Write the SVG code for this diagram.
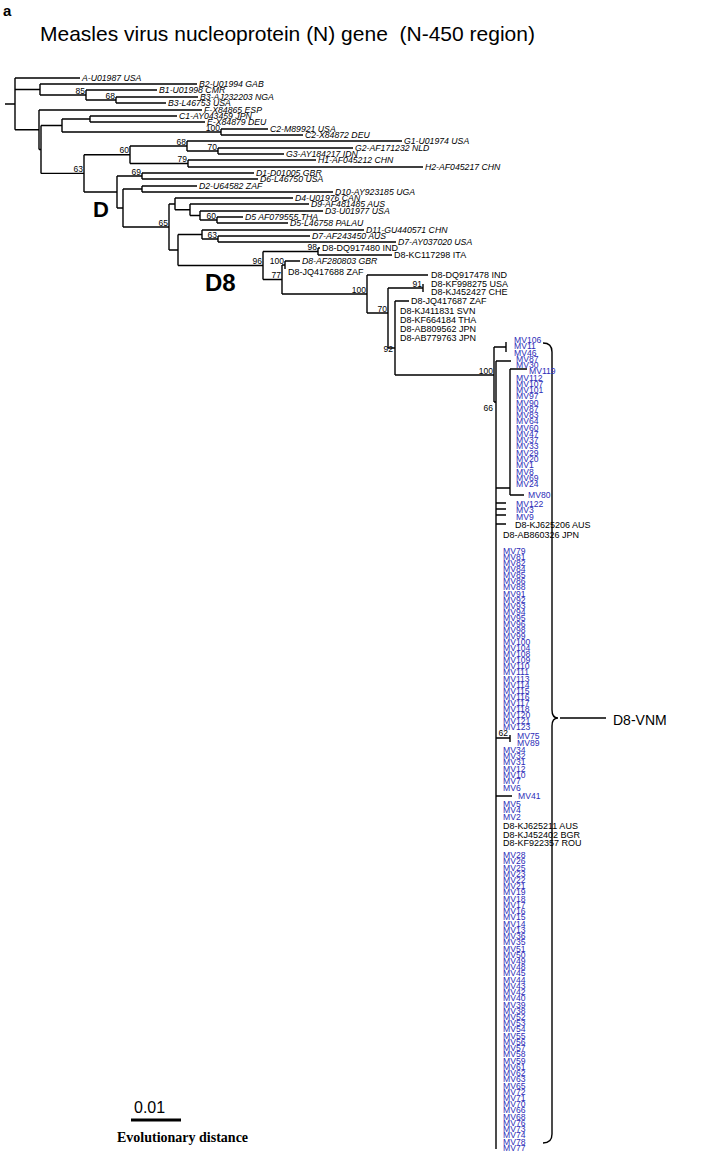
<svg xmlns="http://www.w3.org/2000/svg" width="711" height="1155" viewBox="0 0 711 1155">
<style>
.e{stroke:#000;stroke-width:1.4;fill:none}
.i{font-family:"Liberation Sans",Arial,sans-serif;font-style:italic;font-size:8.7px;fill:#000}
.n{font-family:"Liberation Sans",Arial,sans-serif;font-size:9px;fill:#000}
.bs{font-family:"Liberation Sans",Arial,sans-serif;font-size:8.5px;fill:#000;text-anchor:end}
.m{font-family:"Liberation Sans",Arial,sans-serif;font-size:8.6px;fill:#2d2db8}
.big{font-family:"Liberation Sans",Arial,sans-serif;font-weight:bold;fill:#000}
</style>
<rect width="711" height="1155" fill="#fff"/>
<g id="title">
<text x="3" y="16" class="big" font-size="15">a</text>
<text x="40" y="41" font-family="Liberation Sans, Arial, sans-serif" font-size="21" style="white-space:pre">Measles virus nucleoprotein (N) gene  (N-450 region)</text>
</g>
<g id="connectors">
<path class="e" d="M5,104H15 M15,78V129.7 M15,78H80
M15,89.5H40 M40,84V95 M40,84H197
M40,95H86 M86,90V100 M86,90H157
M86,100H116 M116,97V103 M116,97H198 M116,103H166
M15,129.7H39 M39,110V149.5 M39,110H202
M39,149.5H41 M41,125.5V173.4
M41,125.5H62 M62,119V132
M62,119H90 M90,116V122 M90,116H177 M90,122H205
M62,132H221 M221,129V135 M221,129H268 M221,135H303
M41,173.4H84 M84,154.75V192
M84,154.75H130 M130,146V163.5
M130,146H187 M187,141V151 M187,141H402
M187,151H218 M218,148V154 M218,148H353 M218,154H284
M130,163.5H188 M188,160V167 M188,160H316 M188,167H423
M84,192H117 M117,176V208
M117,176H142 M142,173V179 M142,173H254 M142,179H258
M117,208H123 M123,189V227
M123,189H142 M142,186V192 M142,186H197 M142,192H333
M123,227H169 M169,204V250
M169,204H175 M175,198V209.75 M175,198H293
M175,209.75H190 M190,204V215.5 M190,204H309
M190,215.5H200 M200,211V220 M200,211H323
M200,220H217 M217,217V223 M217,217H243 M217,223H288
M169,250H178 M178,234.5V265.5
M178,234.5H202 M202,230V239 M202,230H364
M202,239H218 M218,236V242 M218,236H310 M218,242H396
M178,265.5H263 M263,251.5V279.5
M263,251.5H318 M318,248V255 M318,248H320 M318,255H392
M263,279.5H282 M282,265V294
M282,265H285 M285,261V269 M285,261H300
M282,294H367 M367,275V313 M367,275H428
M367,313H388 M388,288V348
M388,288H423 M423,284V292
M388,348H395 M395,301V375 M395,301H409
M395,375H494 M494,347V402
M494,347H506 M506,342V352
M494,402H496 M496,361V1149
M496,361H511
M510,369V495 M510,369H527 M496,488H510 M510,495H524
M496,503H506 M496,509H506 M496,515H506 M496,524H506
M496,738H510 M510,735V742
M496,796H512"/>
<path class="e" d="M543,343 Q552,343 552,352 V710 Q552,718 558,718 Q552,718 552,726 V1134 Q552,1143 543,1143 M560,718 H606"/>
</g>
<g id="bootstrap">
<text class="bs" x="85" y="93.5">85</text>
<text class="bs" x="115" y="98.5">68</text>
<text class="bs" x="220" y="130.5">100</text>
<text class="bs" x="83" y="172">63</text>
<text class="bs" x="129" y="153">60</text>
<text class="bs" x="186" y="144.5">68</text>
<text class="bs" x="217" y="149.5">70</text>
<text class="bs" x="187" y="162">79</text>
<text class="bs" x="141" y="174.5">69</text>
<text class="bs" x="168" y="225.5">65</text>
<text class="bs" x="216" y="218.5">60</text>
<text class="bs" x="217" y="237.5">63</text>
<text class="bs" x="262" y="264">96</text>
<text class="bs" x="317" y="250">98</text>
<text class="bs" x="281" y="278">77</text>
<text class="bs" x="284" y="263.5">100</text>
<text class="bs" x="366" y="292.5">100</text>
<text class="bs" x="387" y="311.5">70</text>
<text class="bs" x="422" y="286.5">91</text>
<text class="bs" x="393" y="352">92</text>
<text class="bs" x="493" y="373.5">100</text>
<text class="bs" x="493" y="411">66</text>
<text class="bs" x="508" y="736">62</text>
</g>
<g id="reference-strains">
<g id="A-U01987"><text class="i" x="82" y="81">A-U01987 USA</text></g>
<g id="B2-U01994"><text class="i" x="199" y="87">B2-U01994 GAB</text></g>
<g id="B1-U01998"><text class="i" x="159" y="93">B1-U01998 CMR</text></g>
<g id="B3-AJ232203"><text class="i" x="200" y="100">B3-AJ232203 NGA</text></g>
<g id="B3-L46753"><text class="i" x="168" y="106">B3-L46753 USA</text></g>
<g id="F-X84865"><text class="i" x="204" y="113">F-X84865 ESP</text></g>
<g id="C1-AY043459"><text class="i" x="179" y="119">C1-AY043459 JPN</text></g>
<g id="E-X84879"><text class="i" x="207" y="125">E-X84879 DEU</text></g>
<g id="C2-M89921"><text class="i" x="270" y="132">C2-M89921 USA</text></g>
<g id="C2-X84872"><text class="i" x="305" y="138">C2-X84872 DEU</text></g>
<g id="G1-U01974"><text class="i" x="404" y="144">G1-U01974 USA</text></g>
<g id="G2-AF171232"><text class="i" x="355" y="151">G2-AF171232 NLD</text></g>
<g id="G3-AY184217"><text class="i" x="286" y="157">G3-AY184217 IDN</text></g>
<g id="H1-AF045212"><text class="i" x="318" y="163">H1-AF045212 CHN</text></g>
<g id="H2-AF045217"><text class="i" x="425" y="170">H2-AF045217 CHN</text></g>
<g id="D1-D01005"><text class="i" x="256" y="176">D1-D01005 GBR</text></g>
<g id="D6-L46750"><text class="i" x="260" y="182">D6-L46750 USA</text></g>
<g id="D2-U64582"><text class="i" x="199" y="189">D2-U64582 ZAF</text></g>
<g id="D10-AY923185"><text class="i" x="335" y="195">D10-AY923185 UGA</text></g>
<g id="D4-U01976"><text class="i" x="295" y="201">D4-U01976 CAN</text></g>
<g id="D9-AF481485"><text class="i" x="311" y="207">D9-AF481485 AUS</text></g>
<g id="D3-U01977"><text class="i" x="325" y="214">D3-U01977 USA</text></g>
<g id="D5-AF079555"><text class="i" x="245" y="220">D5 AF079555 THA</text></g>
<g id="D5-L46758"><text class="i" x="290" y="226">D5-L46758 PALAU</text></g>
<g id="D11-GU440571"><text class="i" x="366" y="233">D11-GU440571 CHN</text></g>
<g id="D7-AF243450"><text class="i" x="312" y="239">D7-AF243450 AUS</text></g>
<g id="D7-AY037020"><text class="i" x="398" y="245">D7-AY037020 USA</text></g>
<g id="D8-AF280803"><text class="i" x="302" y="264">D8-AF280803 GBR</text></g>
<g id="D8-DQ917480"><text class="n" x="322" y="251">D8-DQ917480 IND</text></g>
<g id="D8-KC117298"><text class="n" x="394" y="258">D8-KC117298 ITA</text></g>
<g id="D8-JQ417688"><text class="n" x="288" y="275">D8-JQ417688 ZAF</text></g>
<g id="D8-DQ917478"><text class="n" x="431" y="278">D8-DQ917478 IND</text></g>
<g id="D8-KF998275"><text class="n" x="431" y="287">D8-KF998275 USA</text></g>
<g id="D8-KJ452427"><text class="n" x="431" y="295">D8-KJ452427 CHE</text></g>
<g id="D8-JQ417687"><text class="n" x="411" y="304">D8-JQ417687 ZAF</text></g>
<g id="D8-KJ411831"><text class="n" x="400" y="314">D8-KJ411831 SVN</text></g>
<g id="D8-KF664184"><text class="n" x="400" y="323">D8-KF664184 THA</text></g>
<g id="D8-AB809562"><text class="n" x="400" y="332">D8-AB809562 JPN</text></g>
<g id="D8-AB779763"><text class="n" x="400" y="341">D8-AB779763 JPN</text></g>
<g id="D8-KJ625206"><text class="n" x="515" y="528">D8-KJ625206 AUS</text></g>
<g id="D8-AB860326"><text class="n" x="503" y="538">D8-AB860326 JPN</text></g>
<g id="D8-KJ625211"><text class="n" x="503" y="829">D8-KJ625211 AUS</text></g>
<g id="D8-KJ452402"><text class="n" x="503" y="838">D8-KJ452402 BGR</text></g>
<g id="D8-KF922357"><text class="n" x="503" y="846">D8-KF922357 ROU</text></g>
</g>
<g id="genotype-labels">
<text class="big" x="93" y="217" font-size="22">D</text>
<text class="big" x="205" y="291" font-size="24">D8</text>
<text x="613" y="725" font-family="Liberation Sans, Arial, sans-serif" font-size="14">D8-VNM</text>
</g>
<g id="vietnam-strains" class="m">
<text x="514" y="343">MV106</text>
<text x="514" y="349.3">MV11</text>
<text x="514" y="355.5">MV46</text>
<text x="516" y="361.8">MV87</text>
<text x="516" y="368">MV30</text>
<text x="529" y="374.3">MV119</text>
<text x="516" y="380.6">MV112</text>
<text x="516" y="386.8">MV107</text>
<text x="516" y="393.1">MV101</text>
<text x="516" y="399.3">MV97</text>
<text x="516" y="405.6">MV90</text>
<text x="516" y="411.9">MV87</text>
<text x="516" y="418.1">MV83</text>
<text x="516" y="424.4">MV64</text>
<text x="516" y="430.6">MV60</text>
<text x="516" y="436.9">MV47</text>
<text x="516" y="443.2">MV37</text>
<text x="516" y="449.4">MV33</text>
<text x="516" y="455.7">MV29</text>
<text x="516" y="461.9">MV20</text>
<text x="516" y="468.2">MV1</text>
<text x="516" y="474.5">MV8</text>
<text x="516" y="480.7">MV69</text>
<text x="516" y="487">MV24</text>
<text x="528" y="498">MV80</text>
<text x="516" y="507">MV122</text>
<text x="516" y="513">MV3</text>
<text x="516" y="520">MV9</text>
<text x="503" y="554">MV79</text>
<text x="503" y="560.1">MV81</text>
<text x="503" y="566.1">MV82</text>
<text x="503" y="572.2">MV84</text>
<text x="503" y="578.3">MV85</text>
<text x="503" y="584.4">MV86</text>
<text x="503" y="590.4">MV88</text>
<text x="503" y="596.5">MV91</text>
<text x="503" y="602.6">MV92</text>
<text x="503" y="608.6">MV93</text>
<text x="503" y="614.7">MV94</text>
<text x="503" y="620.8">MV95</text>
<text x="503" y="626.8">MV96</text>
<text x="503" y="632.9">MV98</text>
<text x="503" y="639">MV99</text>
<text x="503" y="645">MV100</text>
<text x="503" y="651.1">MV104</text>
<text x="503" y="657.2">MV108</text>
<text x="503" y="663.3">MV109</text>
<text x="503" y="669.3">MV110</text>
<text x="503" y="675.4">MV111</text>
<text x="503" y="681.5">MV113</text>
<text x="503" y="687.5">MV114</text>
<text x="503" y="693.6">MV115</text>
<text x="503" y="699.7">MV116</text>
<text x="503" y="705.7">MV117</text>
<text x="503" y="711.8">MV118</text>
<text x="503" y="717.9">MV120</text>
<text x="503" y="724">MV121</text>
<text x="503" y="730">MV123</text>
<text x="517" y="739">MV75</text>
<text x="517" y="746">MV89</text>
<text x="503" y="753">MV34</text>
<text x="503" y="759">MV32</text>
<text x="503" y="765">MV31</text>
<text x="503" y="772">MV12</text>
<text x="503" y="778">MV10</text>
<text x="503" y="784">MV7</text>
<text x="503" y="791">MV6</text>
<text x="518" y="799">MV41</text>
<text x="503" y="807">MV5</text>
<text x="503" y="813">MV4</text>
<text x="503" y="820">MV2</text>
<text x="503" y="858">MV28</text>
<text x="503" y="864.2">MV26</text>
<text x="503" y="870.5">MV25</text>
<text x="503" y="876.7">MV23</text>
<text x="503" y="882.9">MV22</text>
<text x="503" y="889.2">MV21</text>
<text x="503" y="895.4">MV19</text>
<text x="503" y="901.6">MV18</text>
<text x="503" y="907.8">MV17</text>
<text x="503" y="914.1">MV16</text>
<text x="503" y="920.3">MV15</text>
<text x="503" y="926.5">MV14</text>
<text x="503" y="932.8">MV13</text>
<text x="503" y="939">MV36</text>
<text x="503" y="945.2">MV35</text>
<text x="503" y="951.5">MV51</text>
<text x="503" y="957.7">MV50</text>
<text x="503" y="963.9">MV49</text>
<text x="503" y="970.1">MV48</text>
<text x="503" y="976.4">MV45</text>
<text x="503" y="982.6">MV44</text>
<text x="503" y="988.8">MV43</text>
<text x="503" y="995.1">MV42</text>
<text x="503" y="1001.3">MV40</text>
<text x="503" y="1007.5">MV39</text>
<text x="503" y="1013.8">MV38</text>
<text x="503" y="1020">MV52</text>
<text x="503" y="1026.2">MV53</text>
<text x="503" y="1032.4">MV54</text>
<text x="503" y="1038.7">MV55</text>
<text x="503" y="1044.9">MV56</text>
<text x="503" y="1051.1">MV57</text>
<text x="503" y="1057.4">MV58</text>
<text x="503" y="1063.6">MV59</text>
<text x="503" y="1069.8">MV61</text>
<text x="503" y="1076.1">MV62</text>
<text x="503" y="1082.3">MV63</text>
<text x="503" y="1088.5">MV65</text>
<text x="503" y="1094.7">MV72</text>
<text x="503" y="1101">MV71</text>
<text x="503" y="1107.2">MV70</text>
<text x="503" y="1113.4">MV66</text>
<text x="503" y="1119.7">MV68</text>
<text x="503" y="1125.9">MV76</text>
<text x="503" y="1132.1">MV73</text>
<text x="503" y="1138.4">MV74</text>
<text x="503" y="1144.6">MV78</text>
<text x="503" y="1150.8">MV77</text>
</g>
<g id="scale-bar">
<path d="M131,1120H181" stroke="#000" stroke-width="3"/>
<text x="134" y="1113" font-family="Liberation Sans, Arial, sans-serif" font-size="16">0.01</text>
<text x="117" y="1142" font-family="Liberation Serif, Times New Roman, serif" font-weight="bold" font-size="14">Evolutionary distance</text>
</g>
</svg>
